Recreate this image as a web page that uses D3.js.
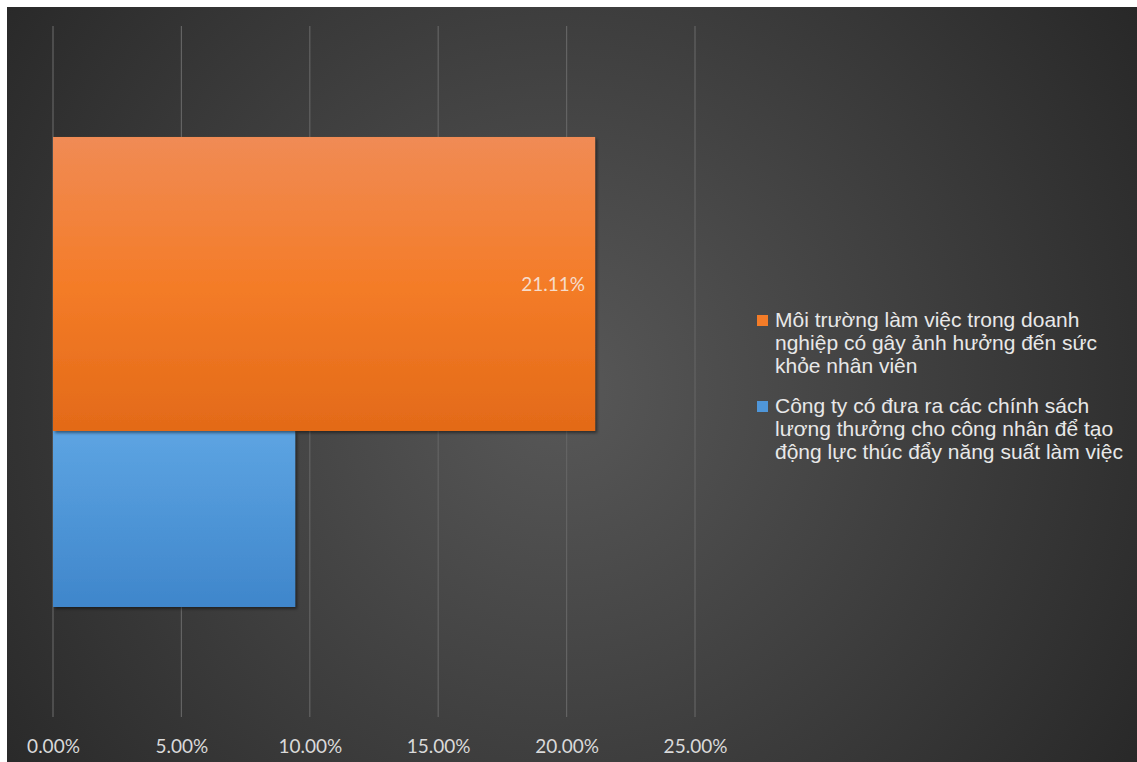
<!DOCTYPE html>
<html>
<head>
<meta charset="utf-8">
<script src="https://cdn.jsdelivr.net/npm/d3@7"></script>
<style>
html,body{margin:0;padding:0;background:#fff;}
svg{display:block;}
</style>
</head>
<body>
<svg id="chart" width="1137" height="762"></svg>
<script>
const seriesNames = [
  "Môi trường làm việc trong doanh nghiệp có gây ảnh hưởng đến sức khỏe nhân viên",
  "Công ty có đưa ra các chính sách lương thưởng cho công nhân để tạo động lực thúc đẩy năng suất làm việc"
];
const legendLines = [
  ["Môi trường làm việc trong doanh", "nghiệp có gây ảnh hưởng đến sức", "khỏe nhân viên"],
  ["Công ty có đưa ra các chính sách", "lương thưởng cho công nhân để tạo", "động lực thúc đẩy năng suất làm việc"]
];
const seriesValues = [21.11, 9.43];
const dataLabels = ["21.11%", null];
const tickValues = [0, 5, 10, 15, 20, 25];
const tickLabels = ["0.00%", "5.00%", "10.00%", "15.00%", "20.00%", "25.00%"];

const svg = d3.select("#chart");
const W = 1137, H = 762;
const defs = svg.append("defs");

const bg = defs.append("radialGradient").attr("id","bg")
  .attr("gradientUnits","userSpaceOnUse")
  .attr("cx", 560).attr("cy", 390).attr("r", 720);
bg.append("stop").attr("offset","0%").attr("stop-color","#585858");
bg.append("stop").attr("offset","100%").attr("stop-color","#262626");

const og = defs.append("linearGradient").attr("id","og").attr("x1",0).attr("y1",0).attr("x2",0).attr("y2",1);
og.append("stop").attr("offset","0%").attr("stop-color","#f08b55");
og.append("stop").attr("offset","50%").attr("stop-color","#f47c28");
og.append("stop").attr("offset","100%").attr("stop-color","#e36a18");
const bgr = defs.append("linearGradient").attr("id","bgr").attr("x1",0).attr("y1",0).attr("x2",0).attr("y2",1);
bgr.append("stop").attr("offset","0%").attr("stop-color","#5da4e2");
bgr.append("stop").attr("offset","100%").attr("stop-color","#3f86cb");

const sh = defs.append("filter").attr("id","shadow").attr("x","-10%").attr("y","-10%").attr("width","130%").attr("height","130%");
sh.append("feDropShadow").attr("dx",2).attr("dy",2).attr("stdDeviation",1.5).attr("flood-color","#000").attr("flood-opacity",0.45);

svg.append("rect").attr("x",7).attr("y",7).attr("width",W-7).attr("height",H-7).attr("fill","url(#bg)");

const plot = {left:53, right:695, top:26, bottom:717};
const x = d3.scaleLinear().domain([0,25]).range([plot.left, plot.right]);

svg.append("g").selectAll("line").data(tickValues).join("line")
  .attr("x1", d=>x(d)).attr("x2", d=>x(d))
  .attr("y1", plot.top).attr("y2", plot.bottom)
  .attr("stroke","#636363").attr("stroke-width",1.2);

const axis = d3.axisBottom(x).tickValues(tickValues).tickFormat((d,i)=>tickLabels[i]).tickSize(0).tickPadding(0);
const ag = svg.append("g").attr("transform",`translate(0,${plot.bottom})`).call(axis);
ag.select(".domain").remove();
ag.selectAll("text").attr("fill","#d9d9d9").attr("font-family","Lato, 'Open Sans', sans-serif")
  .attr("font-size",19).attr("dy",0).attr("y",36);

const yFrac = d3.scaleLinear().domain([0,1]).range([plot.top, plot.bottom]);
const barSlots = [[0.1606, 0.5861], [0.5861, 0.8408]];
const fills = ["url(#og)", "url(#bgr)"];
const order = [1, 0];
const bars = svg.append("g");
order.forEach(i => {
  bars.append("rect")
    .attr("x", x(0))
    .attr("y", yFrac(barSlots[i][0]))
    .attr("width", x(seriesValues[i]) - x(0))
    .attr("height", yFrac(barSlots[i][1]) - yFrac(barSlots[i][0]))
    .attr("fill", fills[i])
    .attr("filter","url(#shadow)");
});

seriesValues.forEach((v,i)=>{
  if(!dataLabels[i]) return;
  svg.append("text").attr("x", x(v) - 10).attr("y", 291)
    .attr("text-anchor","end").attr("fill","#f6dccb")
    .attr("font-family","Lato, 'Open Sans', sans-serif").attr("font-size",19)
    .text(dataLabels[i]);
});

const legColors = ["#f47c28", "#4f96d9"];
const legBase = [327, 413];
const lg = svg.append("g");
legendLines.forEach((lines,i)=>{
  lg.append("rect").attr("x",757).attr("y",legBase[i]-12).attr("width",11).attr("height",11).attr("fill",legColors[i]);
  lines.forEach((t,j)=>{
    lg.append("text").attr("x",775).attr("y",legBase[i]+j*23)
      .attr("fill","#e8e8e8").attr("font-family","'Liberation Sans', Arial, sans-serif")
      .attr("font-size",21).text(t);
  });
});
</script>
</body>
</html>
